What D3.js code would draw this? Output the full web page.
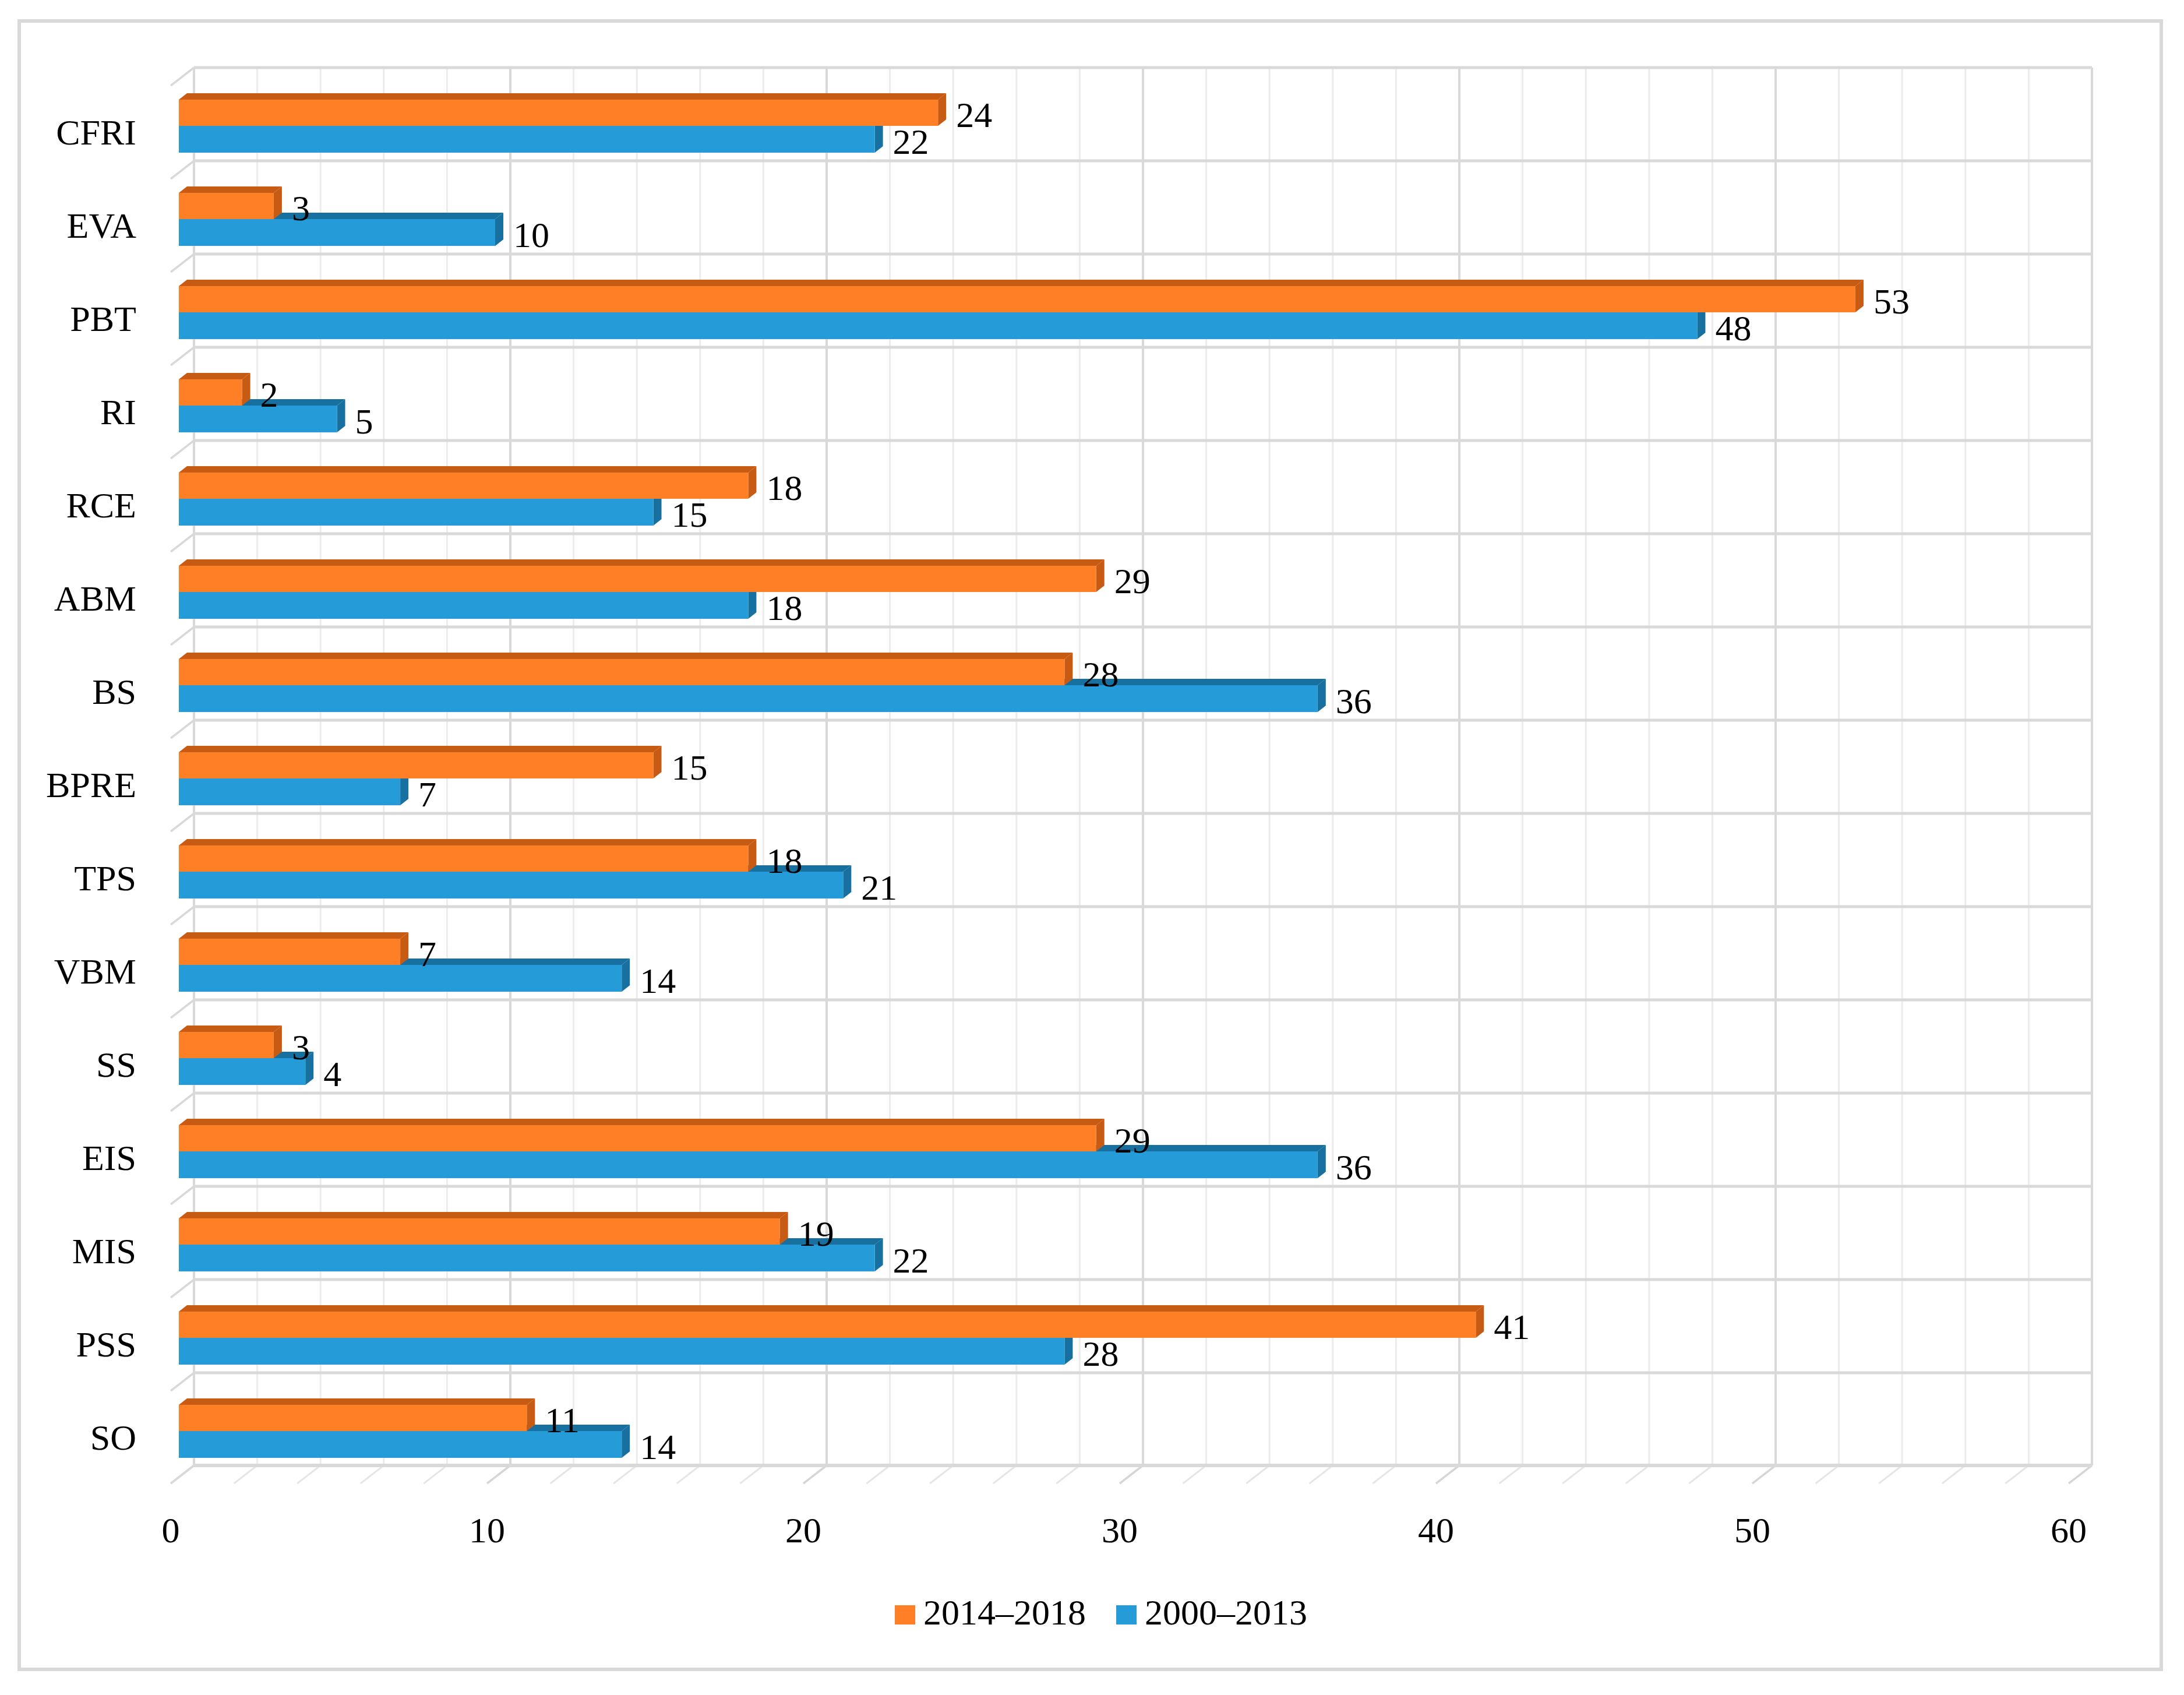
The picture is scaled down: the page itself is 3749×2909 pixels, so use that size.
<!DOCTYPE html>
<html>
<head>
<meta charset="utf-8">
<script src="https://cdn.jsdelivr.net/npm/d3@7"></script>
<style>
  html, body { margin: 0; padding: 0; background: #ffffff; }
  svg { display: block; }
  text { font-family: "Palatino Linotype", "Book Antiqua", Palatino, "Liberation Serif", "DejaVu Serif", serif; fill: #000; }
</style>
</head>
<body>
<svg id="chart" width="3749" height="2909"></svg>
<script>
// ---- data ----
const categories = ["CFRI", "EVA", "PBT", "RI", "RCE", "ABM", "BS", "BPRE", "TPS", "VBM", "SS", "EIS", "MIS", "PSS", "SO"];
const seriesNames = ["2014\u20132018", "2000\u20132013"];
const values2014_2018 = [24, 3, 53, 2, 18, 29, 28, 15, 18, 7, 3, 29, 19, 41, 11];
const values2000_2013 = [22, 10, 48, 5, 15, 18, 36, 7, 21, 14, 4, 36, 22, 28, 14];
const xTicks = [0, 10, 20, 30, 40, 50, 60];
const minorStep = 2;

// ---- layout ----
const W = 3749, H = 2909;
const svg = d3.select("#chart");
const FONT = 62;

const colors = {
  orange: "#FE7F26", orangeDark: "#C75B14",
  blue: "#259BD8", blueDark: "#17709F"
};

const domain = [0, 60];
const xBack = d3.scaleLinear().domain(domain).range([333, 3591]);
const xBar = d3.scaleLinear().domain(domain).range([307, 3565]);
const xFloorFront = d3.scaleLinear().domain(domain).range([293, 3551]);
const yBand = d3.scaleBand().domain(categories).range([116, 2516]).padding(0);

const wallDepth = { dx: -40, dy: 31 };
const barDepth = { dx: 14, dy: -11 };

// outer border
svg.append("rect")
  .attr("x", 33).attr("y", 36).attr("width", 3677).attr("height", 2829)
  .attr("fill", "#fff").attr("stroke", "#d9d9d9").attr("stroke-width", 6);

const grid = svg.append("g");
const floorY = yBand.range()[1] - 1;
const topY = yBand.range()[0];

// minor vertical gridlines on back wall
const minorVals = d3.range(domain[0], domain[1] + 0.001, minorStep).filter(v => v % 10 !== 0);
grid.selectAll("line.minor").data(minorVals).join("line")
  .attr("x1", d => xBack(d)).attr("x2", d => xBack(d))
  .attr("y1", topY).attr("y2", floorY)
  .attr("stroke", "#ececec").attr("stroke-width", 3);
// floor minor diagonals
grid.selectAll("line.fminor").data(minorVals).join("line")
  .attr("x1", d => xBack(d)).attr("y1", floorY)
  .attr("x2", d => xBack(d) + wallDepth.dx).attr("y2", floorY + wallDepth.dy)
  .attr("stroke", "#e6e6e6").attr("stroke-width", 3);

// major vertical gridlines
grid.selectAll("line.major").data(xTicks).join("line")
  .attr("x1", d => xBack(d)).attr("x2", d => xBack(d))
  .attr("y1", topY).attr("y2", floorY)
  .attr("stroke", "#d9d9d9").attr("stroke-width", 4);
grid.selectAll("line.fmajor").data(xTicks).join("line")
  .attr("x1", d => xBack(d)).attr("y1", floorY)
  .attr("x2", d => xBack(d) + wallDepth.dx).attr("y2", floorY + wallDepth.dy)
  .attr("stroke", "#d6d6d6").attr("stroke-width", 3.5);

// horizontal gridlines (category boundaries) + left wall diagonals
const hLines = categories.map(c => yBand(c)).concat([floorY]);
grid.selectAll("line.h").data(hLines).join("line")
  .attr("x1", xBack(domain[0])).attr("x2", xBack(domain[1]))
  .attr("y1", d => d).attr("y2", d => d)
  .attr("stroke", "#d9d9d9").attr("stroke-width", (d, i) => i === hLines.length - 1 ? 6 : 5);
grid.selectAll("line.lw").data(hLines).join("line")
  .attr("x1", xBack(domain[0])).attr("y1", d => d)
  .attr("x2", xBack(domain[0]) + wallDepth.dx).attr("y2", d => d + wallDepth.dy)
  .attr("stroke", "#d9d9d9").attr("stroke-width", 3.5);

// ---- bars ----
const rows = categories.map((c, i) => ({ cat: c, a: values2014_2018[i], b: values2000_2013[i] }));
const ORANGE_TOP = 55, MID = 100, BLUE_BOT = 146;

function drawBar(g, x0, x1, yTop, yBot, front, dark) {
  const dx = barDepth.dx, dy = barDepth.dy;
  // top face
  g.append("path")
    .attr("d", `M${x0},${yTop} L${x0 + dx},${yTop + dy} L${x1 + dx},${yTop + dy} L${x1},${yTop} Z`)
    .attr("fill", dark);
  // side face
  g.append("path")
    .attr("d", `M${x1},${yTop} L${x1 + dx},${yTop + dy} L${x1 + dx},${yBot + dy} L${x1},${yBot} Z`)
    .attr("fill", dark);
  // front face
  g.append("rect")
    .attr("x", x0).attr("y", yTop).attr("width", Math.max(0, x1 - x0)).attr("height", yBot - yTop)
    .attr("fill", front);
}

const barsG = svg.append("g");
rows.forEach(r => {
  const y0 = yBand(r.cat);
  const g = barsG.append("g");
  drawBar(g, xBar(0), xBar(r.b), y0 + MID, y0 + BLUE_BOT, colors.blue, colors.blueDark);
  drawBar(g, xBar(0), xBar(r.a), y0 + ORANGE_TOP, y0 + MID, colors.orange, colors.orangeDark);
});

// data labels
const labelsG = svg.append("g").attr("font-size", FONT);
rows.forEach(r => {
  const y0 = yBand(r.cat);
  labelsG.append("text").attr("x", xBar(r.a) + 31).attr("y", y0 + 102).text(r.a);
  labelsG.append("text").attr("x", xBar(r.b) + 31).attr("y", y0 + 148).text(r.b);
});

// category labels
svg.append("g").attr("font-size", FONT).attr("text-anchor", "end")
  .selectAll("text").data(categories).join("text")
  .attr("x", 234).attr("y", d => yBand(d) + 132).text(d => d);

// x tick labels
svg.append("g").attr("font-size", FONT).attr("text-anchor", "middle")
  .selectAll("text").data(xTicks).join("text")
  .attr("x", d => xFloorFront(d)).attr("y", 2647).text(d => d);

// legend
const legend = svg.append("g").attr("font-size", FONT);
const legendItems = [
  { name: seriesNames[0], color: colors.orange, x: 1536 },
  { name: seriesNames[1], color: colors.blue, x: 1916 }
];
legendItems.forEach(it => {
  legend.append("rect").attr("x", it.x).attr("y", 2755).attr("width", 35).attr("height", 33).attr("fill", it.color);
  legend.append("text").attr("x", it.x + 49).attr("y", 2788).text(it.name);
});
</script>
</body>
</html>
